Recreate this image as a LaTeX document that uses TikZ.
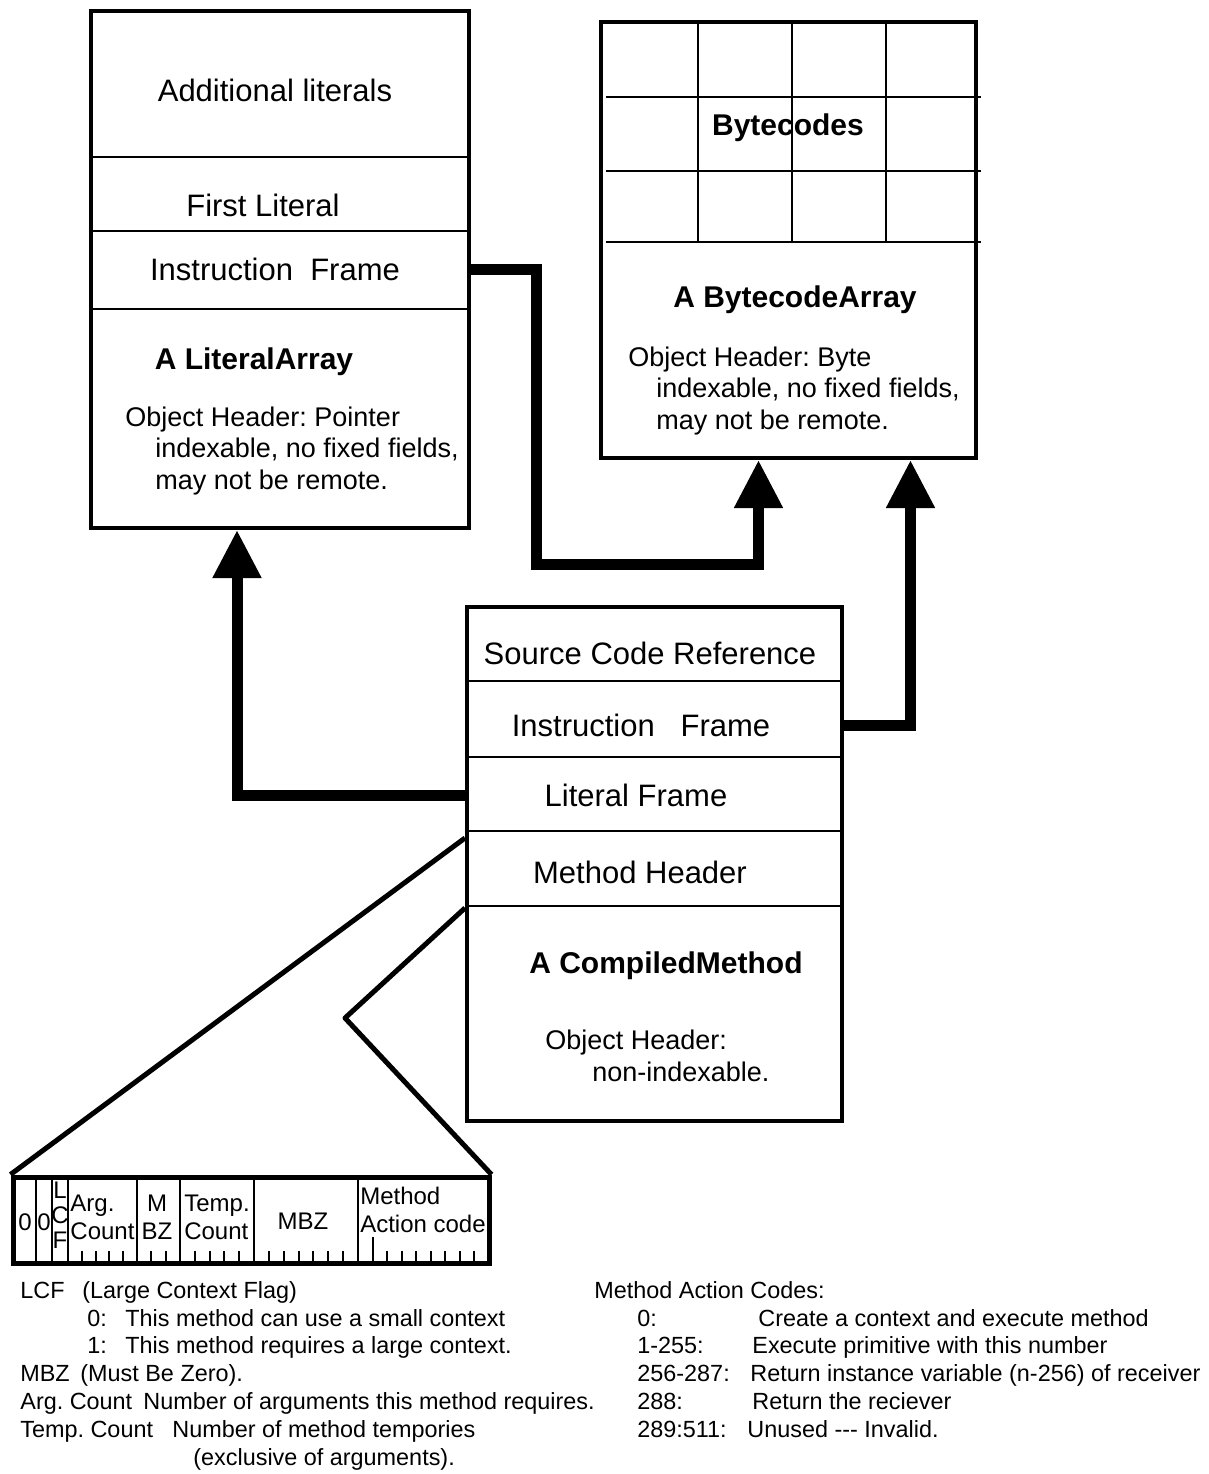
\documentclass[tikz,border=0pt]{standalone}
\usepackage{fontspec}
\setmainfont{Liberation Sans}
\usetikzlibrary{arrows.meta, positioning}
\frenchspacing

\begin{document}
\begin{tikzpicture}[
    x=0.5pt, y=-0.5pt,
    objbox/.style={rectangle, draw=black, line width=2pt, inner sep=0pt},
    divider/.style={line width=1.2pt},
    slot/.style={font=\fontsize{15.5}{18}\selectfont, inner sep=0pt},
    boldtitle/.style={font=\fontsize{15}{18}\selectfont\bfseries, inner sep=0pt},
    headtext/.style={font=\fontsize{13.5}{15.8}\selectfont, align=left, anchor=west, inner sep=0pt},
    bittext/.style={font=\fontsize{12}{14}\selectfont, align=left, inner sep=0pt},
    legtext/.style={font=\fontsize{11.7}{14}\selectfont, anchor=west, inner sep=0pt, text height=1.5ex, text depth=.25ex},
    pointer/.style={-{Triangle[length=24pt, width=23pt]}, line width=5.5pt},
    zoomline/.style={line width=2.5pt, line join=round}
]
    \useasboundingbox (0,0) rectangle (1209,1474);

    % LiteralArray
    \node[objbox, minimum width=189pt, minimum height=258.5pt] (litarray) at (280,269.5) {};
    \draw[divider] (91,157) -- (469,157);
    \draw[divider] (91,231) -- (469,231);
    \draw[divider] (91,309) -- (469,309);
    \node[slot] (addlit) at (275,90) {Additional literals};
    \node[slot] (firstlit) at (263,205) {First Literal};
    \node[slot] (litinstr) at (275,269) {Instruction~ Frame};
    \node[boldtitle] (littitle) at (254,362) {A LiteralArray};
    \node[headtext] (litdesc) at (125,451) {Object Header: Pointer\\\hspace*{15pt}indexable, no fixed fields,\\\hspace*{15pt}may not be remote.};

    % BytecodeArray
    \node[objbox, minimum width=187.5pt, minimum height=218pt] (bcarray) at (788.5,240) {};
    \foreach \x in {698,792,886}
        \draw[divider] (\x,22) -- (\x,242);
    \foreach \y in {97,171,242}
        \draw[divider] (606,\y) -- (981,\y);
    \node[boldtitle] (bytecodes) at (788,128) {Bytecodes};
    \node[boldtitle] (bctitle) at (795,300) {A BytecodeArray};
    \node[headtext] (bcdesc) at (628,391) {Object Header: Byte\\\hspace*{14pt}indexable, no fixed fields,\\\hspace*{14pt}may not be remote.};

    % CompiledMethod
    \node[objbox, minimum width=187.5pt, minimum height=257pt] (cmethod) at (654.5,864) {};
    \draw[divider] (467,681) -- (842,681);
    \draw[divider] (467,757) -- (842,757);
    \draw[divider] (467,831) -- (842,831);
    \draw[divider] (467,906) -- (842,906);
    \node[slot] (cmsrc) at (650,653) {Source Code Reference};
    \node[slot] (cminstr) at (641,725) {Instruction~~ Frame};
    \node[slot] (cmlit) at (636,795) {Literal Frame};
    \node[slot] (cmhdr) at (640,872) {Method Header};
    \node[boldtitle] (cmtitle) at (666,966) {A CompiledMethod};
    \node[headtext] (cmdesc) at (545,1056) {Object Header:\\\hspace*{23.5pt}non-indexable.};

    % pointers between the objects
    \draw[pointer] (litinstr -| litarray.east) -| ++(65,295) -| ([xshift=-15pt]bcarray.south);
    \draw[pointer] (cminstr -| cmethod.east) -| ([xshift=61pt]bcarray.south);
    \draw[pointer] (cmlit -| cmethod.west) -| ([xshift=-21.5pt]litarray.south);

    % method header bits
    \node[objbox, line width=2.5pt, minimum width=238pt, minimum height=43pt] (hdrbits) at (251,1220) {};
    \foreach \x in {36,52,68,137,180,254,358}
        \draw[divider] (\x,1177) -- (\x,1263);
    \foreach \x in {82,96,109,123,151,166,195,210,224,239,269,284,299,313,328,343,387,402,416,431,445,460,474}
        \draw[divider] (\x,1263) -- (\x,1251);
    \draw[divider] (373,1263) -- (373,1237);
    \node[bittext] (bitzeroa) at (25,1222) {0};
    \node[bittext] (bitzerob) at (44,1222) {0};
    \node[bittext, align=center, font=\fontsize{12}{12.5}\selectfont] (bitlcf) at (60,1215) {L\\C\\F};
    \node[bittext] (bitargc) at (102.5,1217) {Arg.\\Count};
    \node[bittext, align=center] (bitmbza) at (157,1217) {M\\BZ};
    \node[bittext] (bittempc) at (217,1217) {Temp.\\Count};
    \node[bittext] (bitmbzb) at (303,1221) {MBZ};
    \node[bittext] (bitaction) at (423,1210) {Method\\Action code};

    \coordinate (kink) at (345,1018);
    \draw[zoomline] (cmethod.west |- 0,838) -- (hdrbits.north west);
    \draw[zoomline] (cmethod.west |- 0,908) -- (kink) -- (hdrbits.north east);

    % legend, left
    \node[legtext] (lcf) at (20,1292) {LCF};
    \node[legtext] (lcfdesc) at (82,1292) {(Large Context Flag)};
    \node[legtext] (lcfzero) at (87,1320) {0:};
    \node[legtext] (lcfzerodesc) at (125,1320) {This method can use a small context};
    \node[legtext] (lcfone) at (87,1347) {1:};
    \node[legtext] (lcfonedesc) at (125,1347) {This method requires a large context.};
    \node[legtext] (mbz) at (20,1375) {MBZ};
    \node[legtext] (mbzdesc) at (80,1375) {(Must Be Zero).};
    \node[legtext] (argc) at (20,1403) {Arg. Count};
    \node[legtext] (argcdesc) at (143,1403) {Number of arguments this method requires.};
    \node[legtext] (tempc) at (20,1431) {Temp. Count};
    \node[legtext] (tempcdesc) at (172,1431) {Number of method tempories};
    \node[legtext] (tempcmore) at (193,1459) {(exclusive of arguments).};

    % legend, right
    \node[legtext] (mac) at (594,1292) {Method Action Codes:};
    \node[legtext] (maczero) at (637,1320) {0:};
    \node[legtext] (maczerodesc) at (758,1320) {Create a context and execute method};
    \node[legtext] (macprim) at (637,1347) {1-255:};
    \node[legtext] (macprimdesc) at (752,1347) {Execute primitive with this number};
    \node[legtext] (macivar) at (637,1375) {256-287:};
    \node[legtext] (macivardesc) at (750,1375) {Return instance variable (n-256) of receiver};
    \node[legtext] (macself) at (637,1403) {288:};
    \node[legtext] (macselfdesc) at (752,1403) {Return the reciever};
    \node[legtext] (macbad) at (637,1431) {289:511:};
    \node[legtext] (macbaddesc) at (747,1431) {Unused -{}-{}- Invalid.};
\end{tikzpicture}
\end{document}
